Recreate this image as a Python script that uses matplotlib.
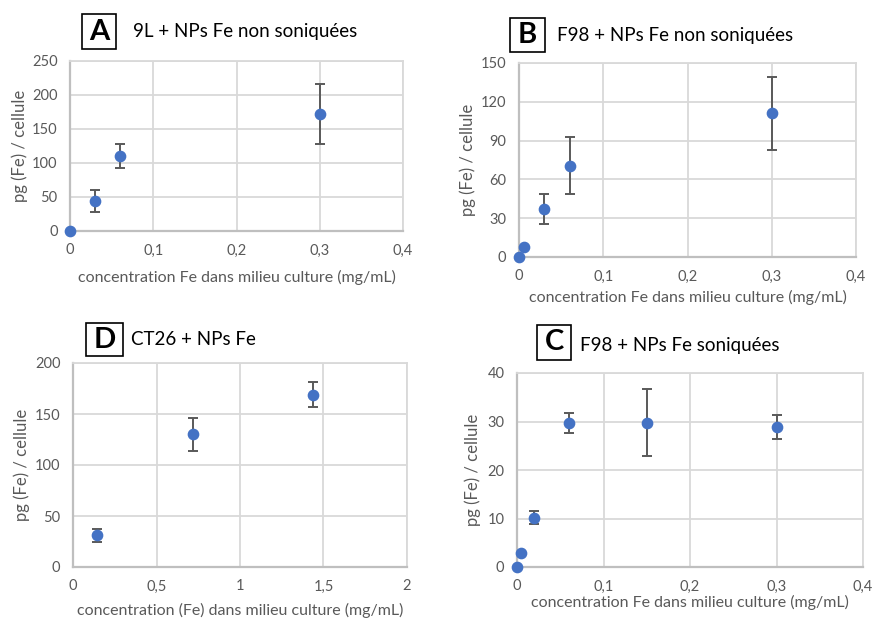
import matplotlib
matplotlib.use("Agg")
import numpy as np
import matplotlib.pyplot as plt
from matplotlib.ticker import FuncFormatter

plt.rcParams['font.family'] = ['Lato', 'DejaVu Sans']

# ---------------------------------------------------------------------------
# Data
# ---------------------------------------------------------------------------

# A : 9L + NPs Fe non soniquées
a_x = [0, 0.03, 0.06, 0.3]
a_y = [0, 44, 110, 172]
a_err = [0, 16, 18, 44]

# B : F98 + NPs Fe non soniquées
b_x = [0, 0.006, 0.03, 0.06, 0.3]
b_y = [0, 7.5, 37, 70.5, 111]
b_err = [0, 0, 11.5, 22, 28]

# D : CT26 + NPs Fe
d_x = [0.144, 0.72, 1.44]
d_y = [31, 130, 169]
d_err = [6.5, 16, 12.5]

# C : F98 + NPs Fe soniquées
c_x = [0, 0.005, 0.02, 0.06, 0.15, 0.3]
c_y = [0, 2.9, 10.2, 29.7, 29.7, 28.9]
c_err = [0, 0.4, 1.4, 2.1, 6.9, 2.5]

W, H = 873, 619
BLUE = '#4472C4'
GRID = '#D9D9D9'
AXIS = '#BFBFBF'
TXT = '#595959'


def px_rect(x0, y0, x1, y1):
    """pixel box (top-left origin) -> figure fraction rect"""
    return [x0 / W, 1 - y1 / H, (x1 - x0) / W, (y1 - y0) / H]


def comma(v, pos):
    return f"{v:g}".replace('.', ',')


def panel(fig, rect, xs, ys, errs, xlim, xstep, ylim, ystep,
          letter, box_px, title, title_px, xlabel, xlab_y, ylab_x):
    ax = fig.add_axes(px_rect(*rect))
    ax.errorbar(xs, ys, yerr=errs, fmt='none', ecolor='#595959',
                elinewidth=1.4, capsize=3.5, capthick=1.4, zorder=3)
    ax.plot(xs, ys, 'o', color=BLUE, ms=7.4, mec=BLUE, zorder=4, clip_on=False)

    ax.set_xlim(*xlim)
    ax.set_ylim(*ylim)
    ax.set_xticks(np.arange(xlim[0], xlim[1] + xstep / 2, xstep))
    ax.set_yticks(np.arange(ylim[0], ylim[1] + ystep / 2, ystep))
    ax.xaxis.set_major_formatter(FuncFormatter(comma))
    ax.grid(True, color=GRID, lw=1.3)
    ax.set_axisbelow(True)
    for s in ['top', 'right']:
        ax.spines[s].set_color(GRID)
        ax.spines[s].set_linewidth(1.3)
    for s in ['left', 'bottom']:
        ax.spines[s].set_color(AXIS)
        ax.spines[s].set_linewidth(1.6)
    ax.tick_params(length=0, labelsize=10.5, colors=TXT)
    ax.tick_params(axis='y', pad=9)
    ax.tick_params(axis='x', pad=9)
    for lab in ax.get_xticklabels() + ax.get_yticklabels():
        lab.set_color(TXT)

    x0, y0, x1, y1 = rect
    ax.set_xlabel(xlabel, fontsize=11.5, color=TXT)
    ax.xaxis.set_label_coords(0.5, -(xlab_y - y1) / (y1 - y0))
    ax.xaxis.label.set_va('center')
    ax.set_ylabel('pg (Fe) / cellule', fontsize=12, color=TXT)
    ax.yaxis.set_label_coords(-(x0 - ylab_x) / (x1 - x0), 0.5)
    ax.yaxis.label.set_va('center')

    # boxed letter
    bx0, by0, bx1, by1 = box_px
    fig.text(((bx0 + bx1) / 2) / W, 1 - ((by0 + by1) / 2) / H, letter,
             ha='center', va='center', fontsize=21, fontweight='bold',
             color='black')
    fig.patches.append(plt.Rectangle((bx0 / W, 1 - by1 / H),
                                     (bx1 - bx0) / W, (by1 - by0) / H,
                                     transform=fig.transFigure, fill=False,
                                     edgecolor='black', lw=1.2))
    fig.text(title_px[0] / W, 1 - title_px[1] / H, title,
             ha='left', va='center', fontsize=13.5, color='black')
    return ax


fig = plt.figure(figsize=(W / 100, H / 100), dpi=100)

panel(fig, (70, 61, 403, 231), a_x, a_y, a_err, (0, 0.4), 0.1, (0, 250), 50,
      'A', (82, 14, 116, 49), '9L + NPs Fe non soniquées', (133, 31),
      'concentration Fe dans milieu culture (mg/mL)', 277, 20)

panel(fig, (519, 63, 856, 257), b_x, b_y, b_err, (0, 0.4), 0.1, (0, 150), 30,
      'B', (510, 18, 545, 52), 'F98 + NPs Fe non soniquées', (557, 35),
      'concentration Fe dans milieu culture (mg/mL)', 297, 468)

panel(fig, (73, 363, 407, 567), d_x, d_y, d_err, (0, 2), 0.5, (0, 200), 50,
      'D', (86, 323, 123, 356), 'CT26 + NPs Fe', (131, 340),
      'concentration (Fe) dans milieu culture (mg/mL)', 610, 22)

panel(fig, (517, 373, 863, 567), c_x, c_y, c_err, (0, 0.4), 0.1, (0, 40), 10,
      'C', (537, 325, 571, 360), 'F98 + NPs Fe soniquées', (580, 345),
      'concentration Fe dans milieu culture (mg/mL)', 602, 473)

fig.savefig('out.png', dpi=100)
